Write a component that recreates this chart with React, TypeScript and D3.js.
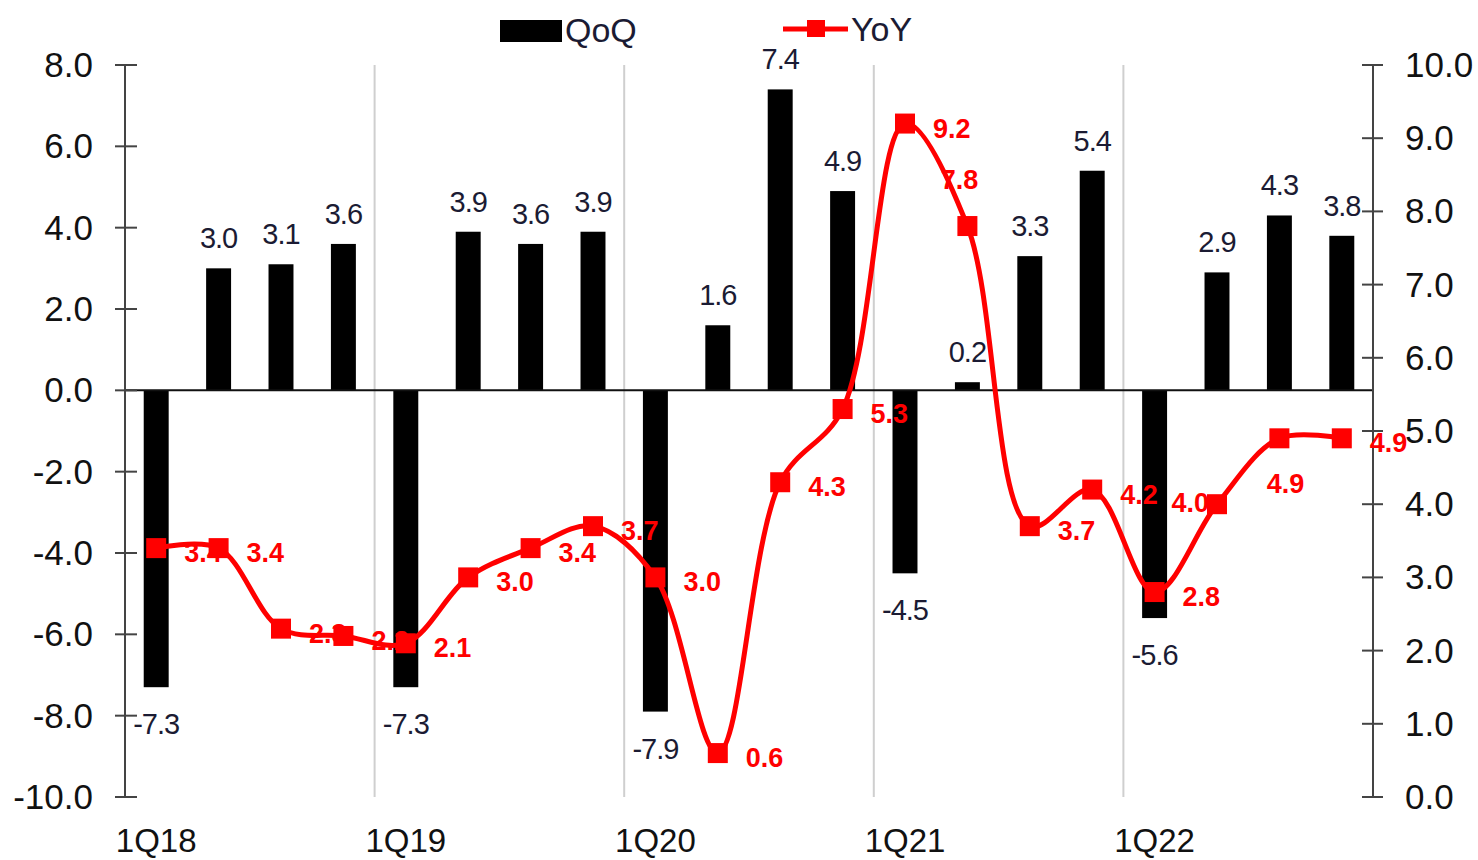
import React from "react";
import * as d3 from "d3";

const categories = [
  "1Q18", "2Q18", "3Q18", "4Q18",
  "1Q19", "2Q19", "3Q19", "4Q19",
  "1Q20", "2Q20", "3Q20", "4Q20",
  "1Q21", "2Q21", "3Q21", "4Q21",
  "1Q22", "2Q22", "3Q22", "4Q22",
];
const qoq = [-7.3, 3.0, 3.1, 3.6, -7.3, 3.9, 3.6, 3.9, -7.9, 1.6, 7.4, 4.9, -4.5, 0.2, 3.3, 5.4, -5.6, 2.9, 4.3, 3.8];
const yoy = [3.4, 3.4, 2.3, 2.2, 2.1, 3.0, 3.4, 3.7, 3.0, 0.6, 4.3, 5.3, 9.2, 7.8, 3.7, 4.2, 2.8, 4.0, 4.9, 4.9];
const yoyLabelPlacement = [
  "right", "right", "right", "right", "right", "right", "right", "right", "right", "right",
  "right", "right", "right", "above", "right", "right", "right", "left", "below", "right",
];
const leftTicks = [-10, -8, -6, -4, -2, 0, 2, 4, 6, 8];
const rightTicks = [0, 1, 2, 3, 4, 5, 6, 7, 8, 9, 10];
const seriesNames = ["QoQ", "YoY"];

const FONT = "'Liberation Sans', Arial, Helvetica, sans-serif";
const TEXT_DARK = "#1b1b33";
const RED = "#ff0000";

export default function App() {
  const W = 1478, H = 860;
  const left = 125, right = 1373, top = 65, bottom = 797;

  const x = d3.scaleBand<string>().domain(categories).range([left, right]).paddingInner(0.6).paddingOuter(0.3);
  const step = x.step();
  const cx = (c: string) => (x(c) as number) + x.bandwidth() / 2;
  const yL = d3.scaleLinear().domain([-10, 8]).range([bottom, top]);
  const yR = d3.scaleLinear().domain([0, 10]).range([bottom, top]);

  const lineGen = d3
    .line<number>()
    .x((_, i) => cx(categories[i]))
    .y((d) => yR(d))
    .curve(d3.curveCatmullRom.alpha(0.5));

  const gridCats = categories.filter((c, i) => c.startsWith("1Q") && i > 0);
  const markerSize = 20;

  const labelPos = (i: number) => {
    const px = cx(categories[i]);
    const py = yR(yoy[i]);
    const p = yoyLabelPlacement[i];
    if (p === "above") return { x: px - 8, y: py - 37, anchor: "middle" };
    if (p === "left") return { x: px - 8, y: py + 8, anchor: "end" };
    if (p === "below") return { x: px + 6, y: py + 55, anchor: "middle" };
    return { x: px + 28, y: py + 14, anchor: "start" };
  };

  return (
    <svg
      width={W}
      height={H}
      style={{ position: "absolute", left: 0, top: 0, display: "block", background: "#fff" }}
      fontFamily={FONT}
    >
      {/* vertical grid lines at year boundaries */}
      {gridCats.map((c) => (
        <line
          key={"g" + c}
          x1={cx(c) - step / 2}
          x2={cx(c) - step / 2}
          y1={top}
          y2={bottom}
          stroke="#cfcfcf"
          strokeWidth={2}
        />
      ))}

      {/* bars */}
      {qoq.map((v, i) => (
        <rect
          key={"b" + i}
          x={x(categories[i]) as number}
          width={x.bandwidth()}
          y={Math.min(yL(v), yL(0))}
          height={Math.abs(yL(v) - yL(0))}
          fill="#000"
        />
      ))}

      {/* zero line */}
      <line x1={left} x2={right} y1={yL(0)} y2={yL(0)} stroke="#111" strokeWidth={2} />

      {/* left axis */}
      <line x1={left} x2={left} y1={top} y2={bottom} stroke="#444" strokeWidth={2} />
      {leftTicks.map((t) => (
        <g key={"lt" + t}>
          <line x1={left - 10} x2={left + 12} y1={yL(t)} y2={yL(t)} stroke="#444" strokeWidth={2} />
          <text x={93} y={yL(t) + 12} textAnchor="end" fontSize={35} fill="#111">
            {t.toFixed(1)}
          </text>
        </g>
      ))}

      {/* right axis */}
      <line x1={right} x2={right} y1={top} y2={bottom} stroke="#444" strokeWidth={2} />
      {rightTicks.map((t) => (
        <g key={"rt" + t}>
          <line x1={right - 11} x2={right + 10} y1={yR(t)} y2={yR(t)} stroke="#444" strokeWidth={2} />
          <text x={1405} y={yR(t) + 12} textAnchor="start" fontSize={35} fill="#111">
            {t.toFixed(1)}
          </text>
        </g>
      ))}

      {/* x labels */}
      {categories.map((c) =>
        c.startsWith("1Q") ? (
          <text key={"x" + c} x={cx(c)} y={852} textAnchor="middle" fontSize={33} fill="#111">
            {c}
          </text>
        ) : null
      )}

      {/* bar labels */}
      {qoq.map((v, i) => (
        <text
          key={"bl" + i}
          x={cx(categories[i])}
          y={v >= 0 ? yL(v) - 20 : yL(v) + 47}
          textAnchor="middle"
          fontSize={29}
          fill={TEXT_DARK}
          letterSpacing={-1}
        >
          {v.toFixed(1)}
        </text>
      ))}

      {/* yoy labels */}
      {yoy.map((v, i) => {
        const p = labelPos(i);
        return (
          <text
            key={"yl" + i}
            x={p.x}
            y={p.y}
            textAnchor={p.anchor as any}
            fontSize={27}
            fontWeight="bold"
            fill={RED}
          >
            {v.toFixed(1)}
          </text>
        );
      })}

      {/* yoy line */}
      <path d={lineGen(yoy) || ""} fill="none" stroke={RED} strokeWidth={5} strokeLinejoin="round" />
      {yoy.map((v, i) => (
        <rect
          key={"m" + i}
          x={cx(categories[i]) - markerSize / 2}
          y={yR(v) - markerSize / 2}
          width={markerSize}
          height={markerSize}
          fill={RED}
        />
      ))}

      {/* legend */}
      <rect x={500} y={20} width={62} height={22} fill="#000" />
      <text x={565} y={42} fontSize={34} fill={TEXT_DARK}>
        {seriesNames[0]}
      </text>
      <line x1={783} x2={848} y1={29} y2={29} stroke={RED} strokeWidth={5} />
      <rect x={807} y={20} width={18} height={17} fill={RED} />
      <text x={851} y={41} fontSize={34} fill={TEXT_DARK}>
        {seriesNames[1]}
      </text>
    </svg>
  );
}
